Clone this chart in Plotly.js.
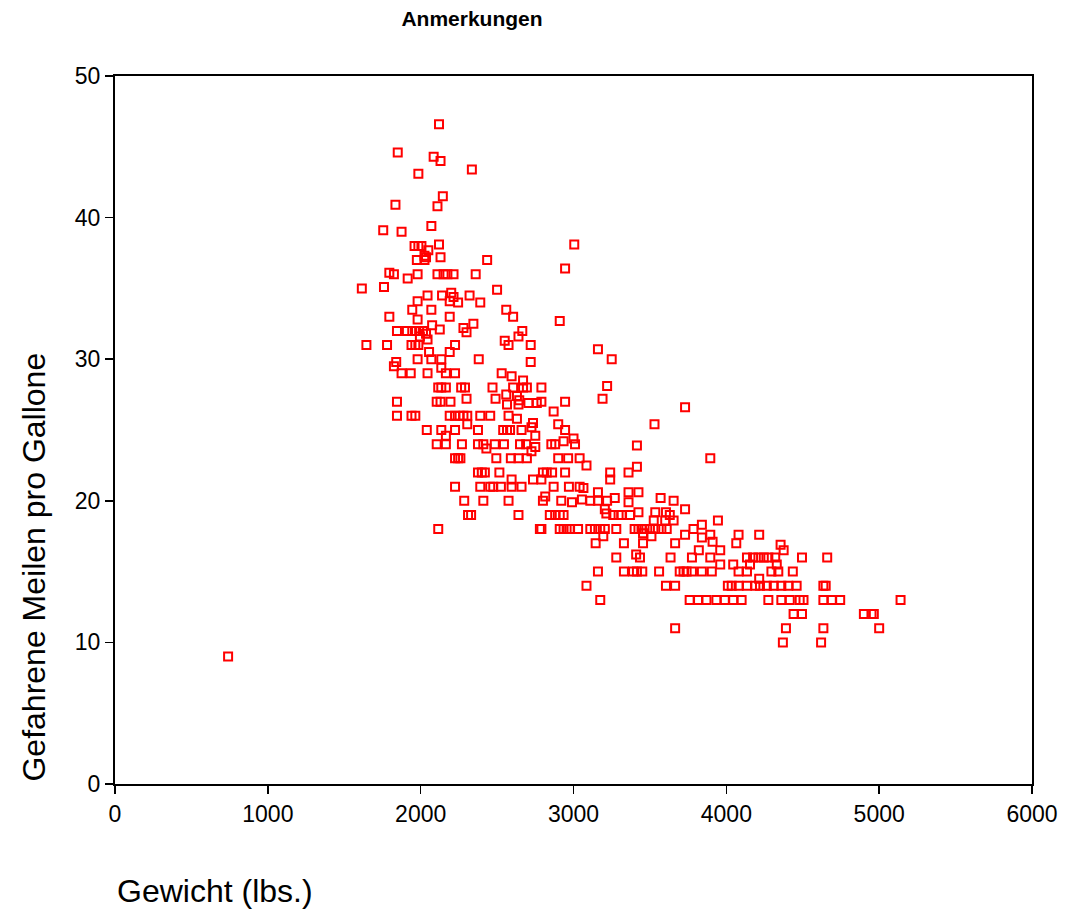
<!DOCTYPE html>
<html>
<head>
<meta charset="utf-8">
<script src="https://cdn.plot.ly/plotly-3.0.1.min.js"></script>
<style>html,body{margin:0;padding:0;background:#fff;}#chart{width:1065px;height:914px;}</style>
</head>
<body>
<div id="chart"></div>
<script>
// Gewicht (lbs.)
const weight = [
2120,1850,2085,2130,2335,1985,2145,1835,2110,2070,1755,1875,1960,1985,2005,2120,2050,2025,2035,2130,1975,2025,2435,1795,1825,1915,1980,2110,2150,2175,2215,2360,1615,1760,2500,
3005,2945,
2200,1980,2045,2140,2215,2190,2245,2320,2390,1945,2070,2190,1795,1980,2560,2605,2075,2125,2280,2300,2345,1845,1910,1945,1970,1990,2015,2035,1995,2045,1645,1780,1940,1965,1985,2225,2550,2575,2640,2665,2720,2055,2190,1980,2070,2135,2380,2720,1840,1825,1875,1935,2045,2135,2165,2225,2530,2595,2670,2115,2135,2165,2265,2290,2470,2605,2670,2695,2560,2630,1845,2105,2130,2195,2300,2490,2565,2640,2645,2705,2760,1845,1940,1965,2190,2225,2255,2280,2305,2390,2455,2575,2630,2305,2735,2040,2135,2225,2165,2375,2540,2565,2585,2660,2725,2750,2105,2165,2270,2375,2410,2430,2485,2545,2650,2690,2725,2750,2225,2245,2260,2495,2590,2640,2695,2375,2400,2420,2515,
2910,3160,3250,2790,3220,3190,2790,2945,2870,3730,3530,2900,2945,2855,2880,2935,3000,3010,3415,3895,2900,2965,3040,3085,3415,3240,3360,2800,2825,2860,2945,
2595,2225,2390,2455,2475,2525,2595,2660,2285,2410,2575,2310,2330,2640,2115,
2735,2790,3240,2870,2970,3040,3065,3160,3360,3425,2815,2800,2920,2990,3055,3110,3160,3220,3270,3360,3570,3655,3730,2845,2880,2910,2935,3205,3215,3260,3295,3315,3370,3425,3535,3605,3630,3655,3600,3525,2780,2790,2910,2935,2955,2975,3030,3110,3140,3175,3205,3280,3400,3425,3445,3465,3500,3535,3575,3610,3840,3945,3785,3195,3455,3510,3730,3840,3895,3910,3145,3330,3455,3665,3820,3960,3410,3435,3280,3635,3775,3895,3960,3160,3330,3390,3415,3450,3560,3695,3720,3740,3775,3840,3905,3085,3605,3665,4010,3175,3760,3815,3870,3935,3990,3665,
4080,4215,4065,4355,4375,4135,4175,4210,4245,4275,4320,4495,4660,4045,4155,4330,4080,4135,4295,4340,4435,4215,4035,4080,4135,4190,4220,4265,4310,4360,4405,4460,4635,4650,4045,4100,4275,4360,4415,4480,4505,4635,4690,4745,5140,4440,4495,4900,4950,4965,4390,4635,5000,4370,4620,
740
];
// Gefahrene Meilen pro Gallone
const mpg = [
46.6,44.6,44.3,44.0,43.4,43.1,41.5,40.9,40.8,39.4,39.1,39.0,38.0,38.0,38.0,38.1,37.7,37.3,37.2,37.2,37.0,37.0,37.0,36.1,36.0,35.7,36.0,36.0,36.0,36.0,36.0,36.0,35.0,35.1,34.9,
38.1,36.4,
34.7,34.1,34.5,34.5,34.4,34.1,34.0,34.5,34.0,33.5,33.5,33.0,33.0,32.8,33.5,33.0,32.4,32.1,32.2,31.9,32.5,32.0,32.0,32.0,32.0,32.0,32.0,31.8,31.6,31.4,31.0,31.0,31.0,31.0,31.0,31.0,31.3,31.0,31.6,32.0,31.0,30.5,30.5,30.0,30.0,30.0,30.0,29.8,29.8,29.5,29.0,29.0,29.0,29.4,29.0,29.0,29.0,28.8,28.5,28.0,28.0,28.0,28.0,28.0,28.0,28.0,28.0,28.0,27.5,27.4,27.0,27.0,27.0,27.0,27.2,27.2,26.8,26.8,27.1,26.9,26.9,26.0,26.0,26.0,26.0,26.0,26.0,26.0,26.0,26.0,26.0,26.0,25.8,25.4,25.5,25.0,25.0,25.0,24.6,25.0,25.0,25.0,25.0,25.0,25.2,24.6,24.0,24.0,24.0,24.0,24.0,23.7,24.0,24.0,24.0,24.0,23.5,23.8,23.0,23.0,23.0,23.0,23.0,23.0,23.0,22.0,22.0,22.0,22.0,
32.7,30.7,30.0,28.0,28.1,27.2,27.0,27.0,26.3,26.6,25.4,25.4,25.0,24.0,24.0,24.2,24.4,24.0,23.9,23.0,23.0,23.0,23.0,22.5,22.4,22.0,22.0,22.0,22.0,22.0,22.0,
21.5,21.0,21.0,21.0,21.0,21.0,21.0,21.0,20.0,20.0,20.0,19.0,19.0,19.0,18.0,
21.5,21.5,21.5,21.0,21.0,21.0,20.9,20.6,20.6,20.6,20.3,20.0,20.0,19.9,20.1,20.0,20.0,20.0,20.2,19.9,20.2,20.0,19.4,19.0,19.0,19.0,19.0,19.4,19.1,19.0,19.0,19.0,19.0,19.2,19.2,19.2,19.0,18.6,18.6,18.6,18.0,18.0,18.0,18.0,18.0,18.0,18.0,18.0,18.0,18.0,18.0,18.0,18.0,18.0,18.0,18.0,18.0,18.0,18.0,18.0,18.3,18.6,18.0,17.5,17.7,17.5,17.6,17.4,17.6,17.1,17.0,17.0,17.0,17.0,16.5,16.5,16.2,16.0,16.0,16.0,16.0,16.0,15.5,15.0,15.0,15.0,15.0,15.0,15.0,15.0,15.0,15.0,15.0,15.0,15.0,14.0,14.0,14.0,14.0,13.0,13.0,13.0,13.0,13.0,13.0,11.0,
17.6,17.6,17.0,16.9,16.5,16.0,16.0,16.0,16.0,16.0,16.0,16.0,16.0,15.5,15.5,15.5,15.0,15.0,15.0,15.0,15.0,14.5,14.0,14.0,14.0,14.0,14.0,14.0,14.0,14.0,14.0,14.0,14.0,14.0,13.0,13.0,13.0,13.0,13.0,13.0,13.0,13.0,13.0,13.0,13.0,12.0,12.0,12.0,12.0,12.0,11.0,11.0,11.0,10.0,10.0,
9.0
];
const xTicks = [0,1000,2000,3000,4000,5000,6000];
const yTicks = [0,10,20,30,40,50];
const chartTitle = 'Anmerkungen';
const xTitle = 'Gewicht (lbs.)';
const yTitle = 'Gefahrene Meilen pro Gallone';

const font = 'Liberation Sans, Arial, Helvetica, sans-serif';
const trace = {
  type: 'scatter', mode: 'markers', x: weight, y: mpg,
  marker: {symbol: 'square-open', size: 8, color: '#ff0000', line: {width: 2, color: '#ff0000'}},
  hoverinfo: 'x+y', showlegend: false
};
const axisCommon = {
  showgrid: false, zeroline: false, showline: true, linecolor: '#000', linewidth: 2,
  mirror: true, ticks: 'outside', ticklen: 8, tickwidth: 1.5, tickcolor: '#000',
  tickfont: {family: font, size: 23, color: '#000'}, tickmode: 'array'
};
const layout = {
  width: 1065, height: 914,
  margin: {l: 115, r: 33, t: 76, b: 130},
  paper_bgcolor: '#fff', plot_bgcolor: '#fff',
  font: {family: font, color: '#000'},
  title: {text: '<b>' + chartTitle + '</b>', font: {family: font, size: 21, color: '#000'},
          x: 472/1065, xanchor: 'center', xref: 'container', y: 1 - 19/914, yanchor: 'middle', yref: 'container'},
  xaxis: Object.assign({}, axisCommon, {range: [0, 6000], tickvals: xTicks, ticktext: xTicks.map(String)}),
  yaxis: Object.assign({}, axisCommon, {range: [0, 50], tickvals: yTicks, ticktext: yTicks.map(String)}),
  annotations: [
    {text: xTitle, xref: 'paper', yref: 'paper', x: 0, xanchor: 'left', y: -0.151, yanchor: 'middle',
     showarrow: false, font: {family: font, size: 32, color: '#000'}},
    {text: yTitle, xref: 'paper', yref: 'paper', x: -0.0894, xanchor: 'center', y: 0, yanchor: 'bottom',
     textangle: -90, showarrow: false, font: {family: font, size: 32, color: '#000'}}
  ]
};
Plotly.newPlot('chart', [trace], layout, {displayModeBar: false, staticPlot: true});
</script>
</body>
</html>
